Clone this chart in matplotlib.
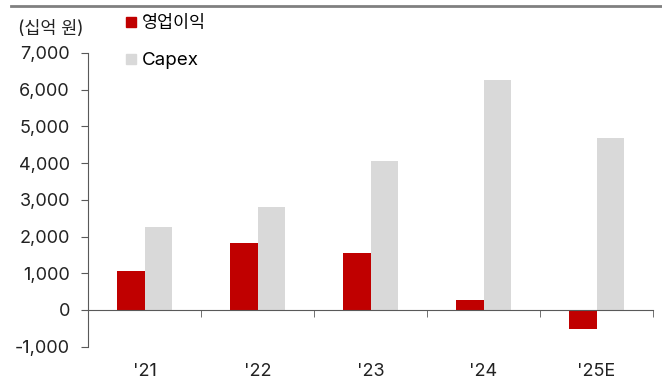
import matplotlib.pyplot as plt
import numpy as np
from matplotlib.patches import Patch

plt.rcParams['font.family'] = ['Inter', 'Noto Sans CJK KR', 'DejaVu Sans']

years = ["'21", "'22", "'23", "'24", "'25E"]
op_profit = [1060, 1815, 1545, 270, -510]
capex = [2250, 2815, 4050, 6275, 4680]

red = '#C00000'
grey = '#D9D9D9'
axis_col = '#595959'
txt_col = '#222222'

fig = plt.figure(figsize=(6.62, 3.81), dpi=100)
ax = fig.add_axes([88 / 662, 1 - 346.7 / 381, (653 - 88) / 662, (346.7 - 53) / 381])

x = np.arange(len(years))
w = 0.24
ax.bar(x - w / 2, op_profit, w, color=red, label='영업이익', zorder=2)
ax.bar(x + w / 2, capex, w, color=grey, label='Capex', zorder=2)

ax.set_xlim(-0.5, len(years) - 0.5)
ax.set_ylim(-1000, 7000)
ax.set_yticks(range(-1000, 7001, 1000))
ax.set_yticklabels([f'{v:,}' for v in range(-1000, 7001, 1000)])

for s in ['top', 'right']:
    ax.spines[s].set_visible(False)
ax.spines['bottom'].set_position(('data', 0))
ax.spines['bottom'].set_color(axis_col)
ax.spines['left'].set_color(axis_col)
ax.spines['bottom'].set_zorder(3)

ax.set_xticks(x)
ax.set_xticklabels(years)
ax.set_xticks(np.arange(-0.5, len(years)), minor=True)
ax.tick_params(axis='x', which='major', length=0, pad=38, labelsize=13, colors=txt_col)
ax.tick_params(axis='x', which='minor', length=5, direction='out', color=axis_col)
ax.tick_params(axis='y', length=5, direction='out', color=axis_col, labelsize=13,
               labelcolor=txt_col, pad=8)

fig.text(18 / 662, 1 - 30 / 381, '(십억 원)', fontsize=12.5, va='center', color=txt_col)

handles = [Patch(color=red, label='영업이익'), Patch(color=grey, label='Capex')]
leg = fig.legend(handles=handles, loc='upper left', bbox_to_anchor=(126 / 662, 1 - 15 / 381),
                 frameon=False, fontsize=12.5, handlelength=0.55, handleheight=0.55,
                 handletextpad=0.35, labelspacing=1.15, borderpad=0, borderaxespad=0)
leg.get_texts()[1].set_fontsize(13.5)

fig.add_artist(plt.Line2D([11 / 662, 1], [1 - 6 / 381, 1 - 6 / 381], color='#808080', lw=2))

fig.savefig('out.png', dpi=100)
